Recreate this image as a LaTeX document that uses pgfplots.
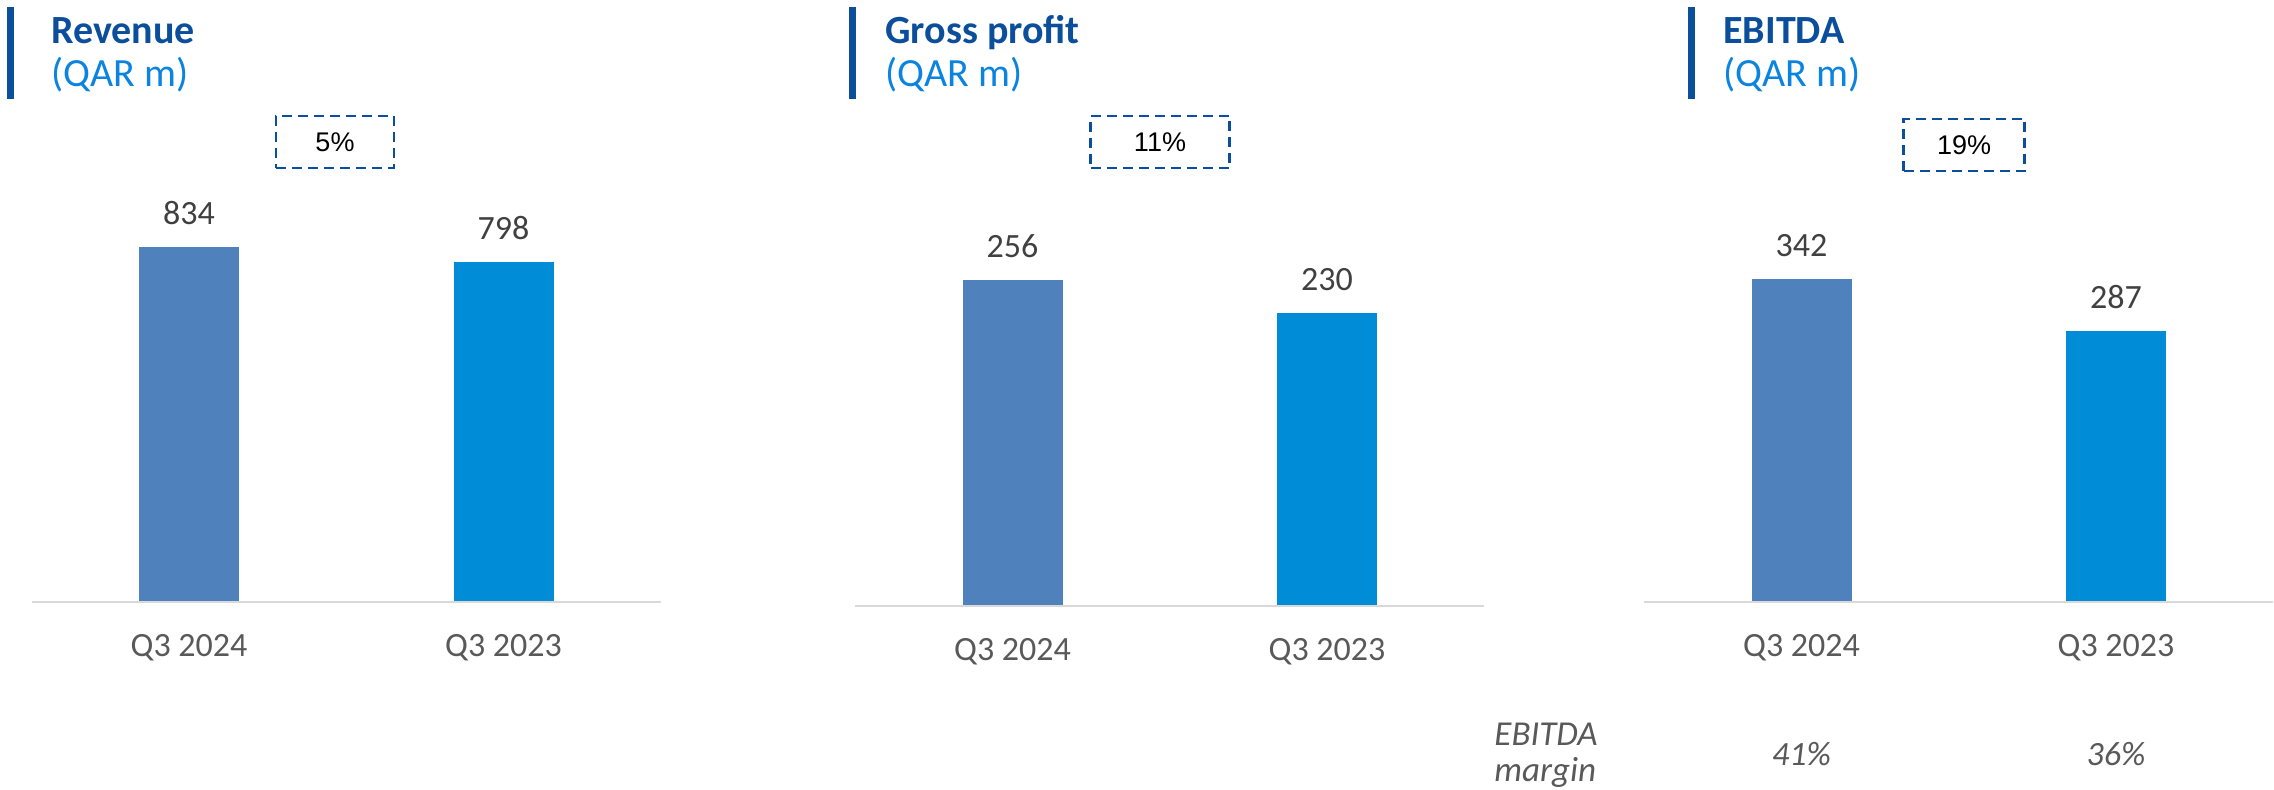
\documentclass[border=0pt]{standalone}
\usepackage{pgfplots}
\pgfplotsset{compat=1.18}
\usepackage{fontspec}
\setmainfont{Carlito}
\newfontfamily\arialfont{Liberation Sans}
\definecolor{barA}{HTML}{4F81BD}
\definecolor{barB}{HTML}{008CD6}
\definecolor{titleblue}{HTML}{0B4F9C}
\definecolor{subblue}{HTML}{0A84E0}
\definecolor{txtgray}{HTML}{595959}
\definecolor{valgray}{HTML}{404040}
\definecolor{axgray}{HTML}{D9D9D9}
\pgfplotsset{panel/.style={
  scale only axis, x=157.25pt, xmin=-0.5, xmax=1.5, ymin=0,
  anchor=south west, clip=false,
  axis line style={draw=none}, major tick length=0pt,
  ytick=\empty, xtick={0,1}, xticklabels={Q3 2024,Q3 2023},
  xticklabel style={font=\fontsize{17}{20}\selectfont, text=txtgray, anchor=base, yshift=-27pt},
  /pgf/number format/assume math mode=true,
  ybar, bar width=50pt,
  nodes near coords,
  every node near coord/.append style={font=\fontsize{17}{20}\selectfont, text=valgray, anchor=south, inner sep=0pt, yshift=11pt},
}}
\begin{document}
\begin{tikzpicture}
\useasboundingbox (0,0) rectangle (1137pt,394.5pt);
% Panel 1
\begin{axis}[panel, y=0.2129pt, ymax=900, at={(15.875pt,93.5pt)}]
\addplot[fill=barA, draw=none, bar shift=0pt] coordinates {(0,834)};
\addplot[fill=barB, draw=none, bar shift=0pt] coordinates {(1,798)};
\draw[axgray, line width=1.2pt] (axis cs:-0.5,0) -- (axis cs:1.5,0);
\end{axis}
% Panel 2
\begin{axis}[panel, y=0.6367pt, ymax=300, at={(427.625pt,91.5pt)}]
\addplot[fill=barA, draw=none, bar shift=0pt] coordinates {(0,256)};
\addplot[fill=barB, draw=none, bar shift=0pt] coordinates {(1,230)};
\draw[axgray, line width=1.2pt] (axis cs:-0.5,0) -- (axis cs:1.5,0);
\end{axis}
% Panel 3
\begin{axis}[panel, y=0.4725pt, ymax=400, at={(822.125pt,93.5pt)}]
\addplot[fill=barA, draw=none, bar shift=0pt] coordinates {(0,342)};
\addplot[fill=barB, draw=none, bar shift=0pt] coordinates {(1,287)};
\draw[axgray, line width=1.2pt] (axis cs:-0.5,0) -- (axis cs:1.5,0);
\end{axis}
% Titles
\foreach \bx/\tx/\tt in {3.5/25.5/Revenue, 424.5/442.5/Gross profit, 844/861.5/EBITDA}{
  \fill[titleblue] (\bx pt,345pt) rectangle ++(3.5pt,46pt);
  \node[anchor=base west, inner sep=0pt, font=\fontsize{20}{23}\selectfont\bfseries, text=titleblue] at (\tx pt,372.5pt) {\tt};
  \node[anchor=base west, inner sep=0pt, font=\fontsize{20}{23}\selectfont, text=subblue] at (\tx pt,351pt) {(QAR m)};
}
% Change boxes
\tikzset{chg/.style={draw=titleblue, dash pattern=on 5pt off 3pt, line width=1.4pt, minimum height=26pt, inner sep=0pt, font=\arialfont\fontsize{13.5}{16}\selectfont, text=black}}
\node[chg, minimum width=59pt] at (167.5pt,323.5pt) {5\%};
\node[chg, minimum width=69.5pt] at (580pt,323.5pt) {11\%};
\node[chg, minimum width=60.5pt] at (982pt,322pt) {19\%};
% EBITDA margin row
\node[anchor=west, align=left, inner sep=0pt, font=\fontsize{17.5}{18}\selectfont\itshape, text=txtgray] at (747pt,17pt) {EBITDA\\margin};
\node[font=\fontsize{17}{20}\selectfont\itshape, text=txtgray] at (900.75pt,17.5pt) {41\%};
\node[font=\fontsize{17}{20}\selectfont\itshape, text=txtgray] at (1058pt,17.5pt) {36\%};
\end{tikzpicture}
\end{document}
